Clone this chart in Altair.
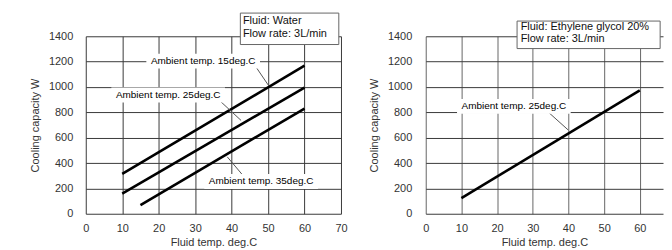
import altair as alt
import pandas as pd

FONT = "Liberation Sans"

# ---------------- data ----------------
y_ticks = [0, 200, 400, 600, 800, 1000, 1200, 1400]
x_ticks_left = [0, 10, 20, 30, 40, 50, 60, 70]
x_ticks_right = [0, 10, 20, 30, 40, 50, 60]

water_series = ["Ambient temp. 15deg.C", "Ambient temp. 25deg.C", "Ambient temp. 35deg.C"]
water_x = [[10, 60], [10, 60], [15, 60]]
water_y = [[315, 1168], [158, 995], [68, 830]]

glycol_series = ["Ambient temp. 25deg.C"]
glycol_x = [[10, 60]]
glycol_y = [[123, 973]]

# annotation anchors (data units)
water_label_x = [32.2, 22.6, 48.1]
water_label_y = [1208, 940, 258]
water_leader_x = [46.7, 36.7, 38.8]
water_leader_y = [1157, 893, 449]
water_leader_x2 = [50.1, 42.6, 43.3]
water_leader_y2 = [1013, 736, 296]

glycol_label_x = [24.7]
glycol_label_y = [851]
glycol_leader_x = [34.5]
glycol_leader_y = [798]
glycol_leader_x2 = [40.0]
glycol_leader_y2 = [659]

water_box = [42.4, 69.4, 1335, 1583]
water_box_text = ["Fluid: Water", "Flow rate: 3L/min"]
water_box_text_x = [43.1, 43.1]
water_box_text_y = [1518, 1418]

glycol_box = [25.6, 65.7, 1303, 1520]
glycol_box_text = ["Fluid: Ethylene glycol 20%", "Flow rate: 3L/min"]
glycol_box_text_x = [26.6, 26.6]
glycol_box_text_y = [1476, 1381]


def panel(series, xs, ys, lab_x, lab_y, ld_x, ld_y, ld_x2, ld_y2,
          box, box_text, box_tx, box_ty, xdomain, xvalues, width, gridx, gridy, ylabpad):
    rows = []
    for s, xx, yy in zip(series, xs, ys):
        for a, b in zip(xx, yy):
            rows.append({"series": s, "x": a, "y": b})
    line_df = pd.DataFrame(rows)
    lab_df = pd.DataFrame({"label": series, "x": lab_x, "y": lab_y})
    ld_df = pd.DataFrame({"x": ld_x, "y": ld_y, "x2": ld_x2, "y2": ld_y2})
    box_df = pd.DataFrame({"x": [box[0]], "x2": [box[1]], "y": [box[2]], "y2": [box[3]]})
    bt_df = pd.DataFrame({"t": box_text, "x": box_tx, "y": box_ty})

    xs_ = alt.Scale(domain=xdomain, nice=False, zero=False)
    ys_ = alt.Scale(domain=[0, 1400], nice=False)

    x_axis = alt.Axis(values=xvalues, grid=True, format="d",
                      gridColor=gridx, gridOpacity=1, ticks=False, domain=False,
                      labelPadding=9, titlePadding=3, labelFlush=False)
    y_axis = alt.Axis(values=y_ticks, grid=True, format="d",
                      gridColor=gridy, gridOpacity=1, ticks=False, domain=False,
                      labelPadding=ylabpad, titlePadding=8)

    def X(f):
        return alt.X(f, scale=xs_, axis=x_axis, title="Fluid temp. deg.C")

    def Y(f):
        return alt.Y(f, scale=ys_, axis=y_axis, title="Cooling capacity W")

    lines = alt.Chart(line_df).mark_line(color="black", strokeWidth=2.6).encode(
        x=X("x:Q"), y=Y("y:Q"), detail="series:N",
    )
    leaders = alt.Chart(ld_df).mark_rule(color="#555555", strokeWidth=1).encode(
        x=X("x:Q"), y=Y("y:Q"), x2="x2:Q", y2="y2:Q",
    )
    lab_bg = alt.Chart(lab_df).mark_rect(fill="white", xOffset=-57, x2Offset=57,
                                         yOffset=-7, y2Offset=8).encode(
        x=X("x:Q"), x2="x:Q", y=Y("y:Q"), y2="y:Q",
    )
    lab_txt = alt.Chart(lab_df).mark_text(font=FONT, fontSize=10, color="black",
                                          align="center", baseline="middle").encode(
        x=X("x:Q"), y=Y("y:Q"), text="label:N",
    )
    box_rect = alt.Chart(box_df).mark_rect(fill="white", stroke="#666666", strokeWidth=1).encode(
        x=X("x:Q"), x2="x2:Q", y=Y("y:Q"), y2="y2:Q",
    )
    box_txt = alt.Chart(bt_df).mark_text(font=FONT, fontSize=11, color="#111111",
                                         align="left", baseline="middle").encode(
        x=X("x:Q"), y=Y("y:Q"), text="t:N",
    )
    return alt.layer(lines, leaders, lab_bg, lab_txt, box_rect, box_txt).properties(
        width=width, height=178)


left = panel(water_series, water_x, water_y, water_label_x, water_label_y,
             water_leader_x, water_leader_y, water_leader_x2, water_leader_y2,
             water_box, water_box_text, water_box_text_x, water_box_text_y,
             [0, 70], x_ticks_left, 256, "#3a3a3a", "#3a3a3a", 13)
right = panel(glycol_series, glycol_x, glycol_y, glycol_label_x, glycol_label_y,
              glycol_leader_x, glycol_leader_y, glycol_leader_x2, glycol_leader_y2,
              glycol_box, glycol_box_text, glycol_box_text_x, glycol_box_text_y,
              [0, 66.5], x_ticks_right, 238, "#666666", "#3a3a3a", 14)

chart = alt.hconcat(left, right, spacing=20).configure(
    padding={"left": 21, "top": 3, "right": 0, "bottom": 0},
    font=FONT,
    background="white",
).configure_view(stroke="transparent").configure_axis(
    labelFont=FONT, labelFontSize=11, labelColor="#333333",
    titleFont=FONT, titleFontSize=11, titleFontWeight="normal", titleColor="#333333",
)

chart.save("out.html", embed_options={"renderer": "svg", "actions": False})
